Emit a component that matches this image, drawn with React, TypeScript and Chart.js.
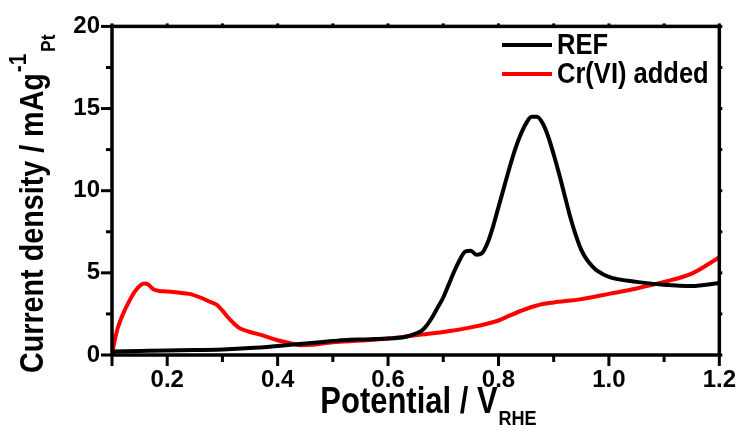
import React, { useEffect, useRef } from "react";
import { Chart, registerables } from "chart.js";

Chart.register(...registerables);

const refPotential = [0.1, 0.15, 0.2, 0.25, 0.3, 0.35, 0.4, 0.45, 0.5, 0.53, 0.56, 0.6, 0.63, 0.65, 0.66, 0.67, 0.68, 0.69, 0.7, 0.71, 0.72, 0.73, 0.74, 0.75, 0.76, 0.77, 0.78, 0.79, 0.8, 0.81, 0.82, 0.83, 0.84, 0.85, 0.86, 0.87, 0.88, 0.89, 0.9, 0.91, 0.92, 0.93, 0.94, 0.95, 0.96, 0.97, 0.98, 1.0, 1.05, 1.1, 1.15, 1.2];
const refCurrent = [0.22, 0.25, 0.28, 0.3, 0.34, 0.42, 0.55, 0.7, 0.85, 0.93, 0.95, 1.0, 1.1, 1.3, 1.45, 1.8, 2.3, 2.9, 3.5, 4.3, 5.1, 5.8, 6.3, 6.35, 6.1, 6.2, 6.8, 7.8, 9.0, 10.2, 11.4, 12.5, 13.4, 14.1, 14.5, 14.5, 14.1, 13.3, 12.2, 11.0, 9.7, 8.4, 7.3, 6.4, 5.8, 5.4, 5.1, 4.75, 4.45, 4.28, 4.2, 4.38];

const crPotential = [0.1, 0.105, 0.11, 0.12, 0.13, 0.14, 0.15, 0.158, 0.165, 0.175, 0.185, 0.2, 0.22, 0.24, 0.26, 0.28, 0.29, 0.3, 0.31, 0.32, 0.33, 0.35, 0.37, 0.4, 0.42, 0.44, 0.46, 0.5, 0.55, 0.6, 0.65, 0.7, 0.75, 0.8, 0.82, 0.85, 0.88, 0.9, 0.95, 1.0, 1.05, 1.1, 1.15, 1.2];
const crCurrent = [0.0, 0.9, 1.6, 2.5, 3.2, 3.8, 4.2, 4.35, 4.3, 4.0, 3.9, 3.87, 3.8, 3.72, 3.5, 3.2, 3.05, 2.7, 2.3, 1.95, 1.65, 1.4, 1.22, 0.9, 0.75, 0.6, 0.62, 0.78, 0.88, 1.0, 1.2, 1.4, 1.68, 2.1, 2.4, 2.8, 3.1, 3.2, 3.4, 3.72, 4.05, 4.45, 4.95, 5.95];

const xTicks = [0.1, 0.2, 0.3, 0.4, 0.5, 0.6, 0.7, 0.8, 0.9, 1.0, 1.1, 1.2];
const xTickLabels = ["", "0.2", "", "0.4", "", "0.6", "", "0.8", "", "1.0", "", "1.2"];
const yTicks = [0, 2.5, 5, 7.5, 10, 12.5, 15, 17.5, 20];
const yTickLabels = ["0", "", "5", "", "10", "", "15", "", "20"];

const seriesLabels = ["REF", "Cr(VI) added"];
const seriesColors = ["#000000", "#ff0000"];

const xTitle = "Potential / V";
const xTitleSub = "RHE";
const yTitle = "Current density / mAg";
const yTitleSup = "-1";
const yTitleSub = "Pt";

const FONT = "'Liberation Sans', Arial, sans-serif";

const decorPlugin = {
  id: "decor",
  afterDraw(chart: any) {
    const { ctx, chartArea } = chart;
    const { left, right, top, bottom } = chartArea;
    const xs = chart.scales.x;
    const ys = chart.scales.y;
    ctx.save();
    ctx.strokeStyle = "#000";
    ctx.lineWidth = 3.5;
    ctx.lineCap = "butt";
    ctx.strokeRect(left, top, right - left, bottom - top);

    ctx.lineWidth = 3;
    xTicks.forEach((v, i) => {
      const px = xs.getPixelForValue(v);
      const major = xTickLabels[i] !== "" || i === 0;
      const len = major ? 11 : 7;
      ctx.beginPath();
      ctx.moveTo(px, bottom);
      ctx.lineTo(px, bottom + len);
      ctx.stroke();
      ctx.beginPath();
      ctx.moveTo(px, top);
      ctx.lineTo(px, top - 3);
      ctx.stroke();
    });
    yTicks.forEach((v, i) => {
      const py = ys.getPixelForValue(v);
      const major = yTickLabels[i] !== "";
      const len = major ? 11 : 6;
      ctx.beginPath();
      ctx.moveTo(left, py);
      ctx.lineTo(left - len, py);
      ctx.stroke();
      ctx.beginPath();
      ctx.moveTo(right, py);
      ctx.lineTo(right + 3, py);
      ctx.stroke();
    });

    ctx.fillStyle = "#000";
    // X title
    const squeeze = 0.86;
    ctx.save();
    ctx.font = `bold 36px ${FONT}`;
    const mainW = ctx.measureText(xTitle).width * squeeze;
    ctx.font = `bold 21px ${FONT}`;
    const subW = ctx.measureText(xTitleSub).width * squeeze;
    const totalW = mainW + subW;
    const startX = 428 - totalW / 2;
    ctx.textBaseline = "alphabetic";
    ctx.textAlign = "left";
    ctx.translate(startX, 413);
    ctx.scale(squeeze, 1);
    ctx.font = `bold 36px ${FONT}`;
    ctx.fillText(xTitle, 0, 0);
    ctx.font = `bold 21px ${FONT}`;
    ctx.fillText(xTitleSub, mainW / squeeze + 1, 12);
    ctx.restore();

    // Y title
    const ySqueeze = 0.87;
    ctx.save();
    ctx.translate(43, 373);
    ctx.rotate(-Math.PI / 2);
    ctx.scale(ySqueeze, 1);
    ctx.textAlign = "left";
    ctx.textBaseline = "alphabetic";
    ctx.font = `bold 33px ${FONT}`;
    ctx.fillText(yTitle, 0, 0);
    const yMain = ctx.measureText(yTitle).width;
    ctx.font = `bold 24px ${FONT}`;
    ctx.fillText(yTitleSup, yMain + 1, -17);
    const supW = ctx.measureText(yTitleSup).width;
    ctx.font = `bold 20px ${FONT}`;
    ctx.fillText(yTitleSub, yMain + supW + 3, 12);
    ctx.restore();

    // Legend
    const legY = [45, 74];
    seriesLabels.forEach((lab, i) => {
      ctx.strokeStyle = seriesColors[i];
      ctx.lineWidth = 4;
      ctx.beginPath();
      ctx.moveTo(502, legY[i]);
      ctx.lineTo(552, legY[i]);
      ctx.stroke();
      ctx.save();
      ctx.translate(557, legY[i]);
      ctx.scale(0.88, 1);
      ctx.font = `bold 29px ${FONT}`;
      ctx.textBaseline = "middle";
      ctx.textAlign = "left";
      ctx.fillStyle = "#000";
      ctx.fillText(lab, 0, 1);
      ctx.restore();
    });
    ctx.restore();
  },
};

export default function App() {
  const canvasRef = useRef<HTMLCanvasElement | null>(null);

  useEffect(() => {
    document.body.style.margin = "0";
    const canvas = canvasRef.current;
    if (!canvas) return;
    const makePoints = (xsArr: number[], ysArr: number[]) => xsArr.map((x, i) => ({ x, y: ysArr[i] }));
    const chart = new Chart(canvas, {
      type: "line",
      data: {
        datasets: [
          {
            label: seriesLabels[0],
            data: makePoints(refPotential, refCurrent),
            borderColor: seriesColors[0],
            borderWidth: 4,
            pointRadius: 0,
            cubicInterpolationMode: "monotone",
            fill: false,
          },
          {
            label: seriesLabels[1],
            data: makePoints(crPotential, crCurrent),
            borderColor: seriesColors[1],
            borderWidth: 4,
            pointRadius: 0,
            cubicInterpolationMode: "monotone",
            fill: false,
          },
        ],
      },
      options: {
        animation: false,
        responsive: false,
        maintainAspectRatio: false,
        devicePixelRatio: 1,
        layout: { padding: { top: 25, right: 23, left: 0, bottom: 0 } },
        plugins: { legend: { display: false }, tooltip: { enabled: false } },
        scales: {
          x: {
            type: "linear",
            min: 0.1,
            max: 1.2,
            afterBuildTicks: (s: any) => {
              s.ticks = xTicks.map((v) => ({ value: v }));
            },
            afterFit: (s: any) => {
              s.height = 78;
            },
            grid: { display: false, drawTicks: false },
            border: { display: false },
            ticks: {
              autoSkip: false,
              maxRotation: 0,
              padding: 11,
              color: "#000",
              font: { family: FONT, size: 24, weight: "bold" },
              callback: (_v: any, i: number) => xTickLabels[i],
            },
          },
          y: {
            type: "linear",
            min: 0,
            max: 20,
            afterBuildTicks: (s: any) => {
              s.ticks = yTicks.map((v) => ({ value: v }));
            },
            afterFit: (s: any) => {
              s.width = 112;
            },
            grid: { display: false, drawTicks: false },
            border: { display: false },
            ticks: {
              autoSkip: false,
              padding: 12,
              color: "#000",
              font: { family: FONT, size: 24, weight: "bold" },
              callback: (_v: any, i: number) => yTickLabels[i],
            },
          },
        },
      },
      plugins: [decorPlugin],
    } as any);
    return () => chart.destroy();
  }, []);

  return (
    <div style={{ width: 747, height: 433 }}>
      <canvas ref={canvasRef} width={747} height={433} style={{ display: "block", width: 747, height: 433 }} />
    </div>
  );
}
